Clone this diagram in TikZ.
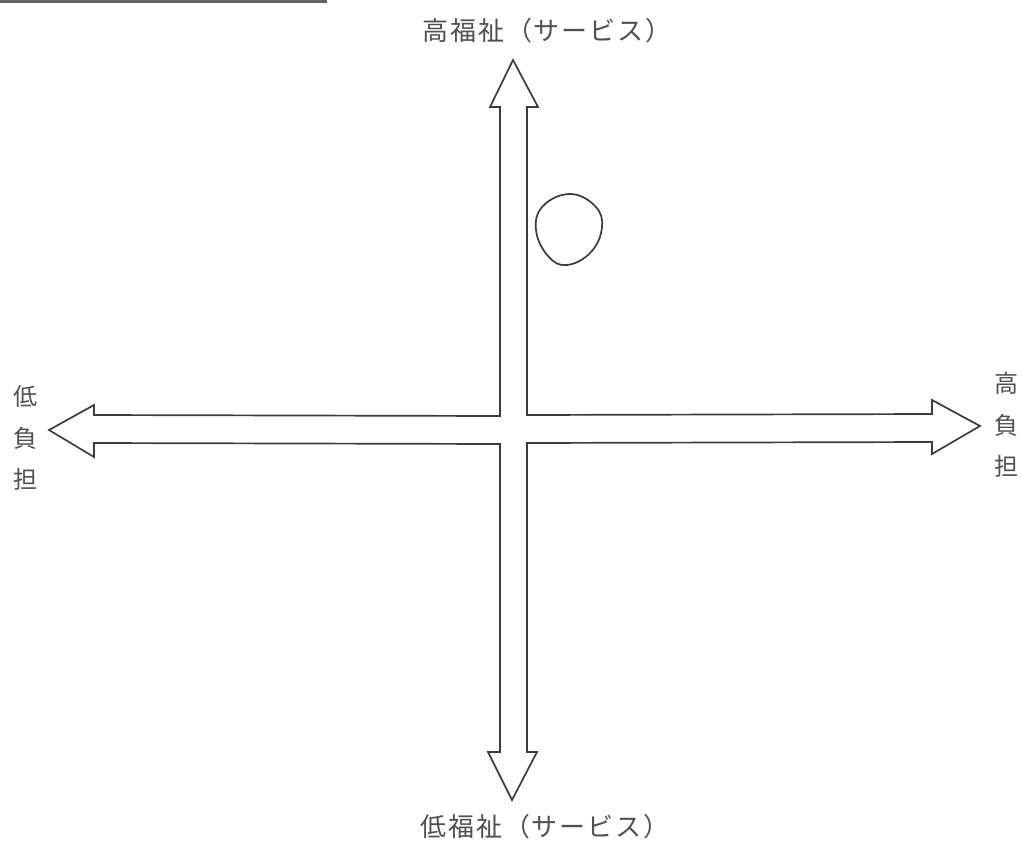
\documentclass[tikz,border=0pt]{standalone}
\usepackage{fontspec}
\newfontfamily\jpfont{Noto Sans CJK JP}
\newfontfamily\jpwide[LetterSpace=7]{Noto Sans CJK JP}
\definecolor{inkline}{HTML}{3C3C3C}
\definecolor{inktext}{HTML}{505050}
\begin{document}
\begin{tikzpicture}[x=1pt,y=-1pt,
  outline/.style={draw=inkline,line width=1.7pt,line join=miter},
  toplabel/.style={font=\jpwide\fontsize{26}{30}\selectfont,text=inktext,inner sep=0pt},
  sidelabel/.style={font=\jpfont\fontsize{24}{41.5}\selectfont,text=inktext,inner sep=0pt,align=center}]
\useasboundingbox[fill=white] (0,0) rectangle (1021,844);
% partial rule at the top left
\draw[draw=inkline!80,line width=3pt] (0,1.5) -- (327,1.5);
% cross of double arrows
\draw[outline] (513,60) -- (538,107) -- (527,107) -- (527,415) -- (932,414) -- (932,400)
  -- (980,426) -- (932,454) -- (932,442) -- (527,443) -- (527,752) -- (537,752)
  -- (512,800) -- (488,752) -- (500,752) -- (500,444) -- (94,443) -- (94,457)
  -- (49,430) -- (94,405) -- (94,415) -- (500,416) -- (500,107) -- (490,107) -- cycle;
% hand-drawn circle
\draw[draw=inkline,line width=1.7pt] plot[smooth cycle,tension=0.7] coordinates
  {(570,194) (595,206) (602,227) (591,252) (567,265) (548,256) (536,230) (543,206)};
% labels
\node[toplabel] (hi) at (547,31) {高福祉（サービス）};
\node[toplabel] (lo) at (545,827) {低福祉（サービス）};
\node[sidelabel] (lb) at (25,438) {低\\負\\担};
\node[sidelabel] (hb) at (1006,425) {高\\負\\担};
\end{tikzpicture}
\end{document}
